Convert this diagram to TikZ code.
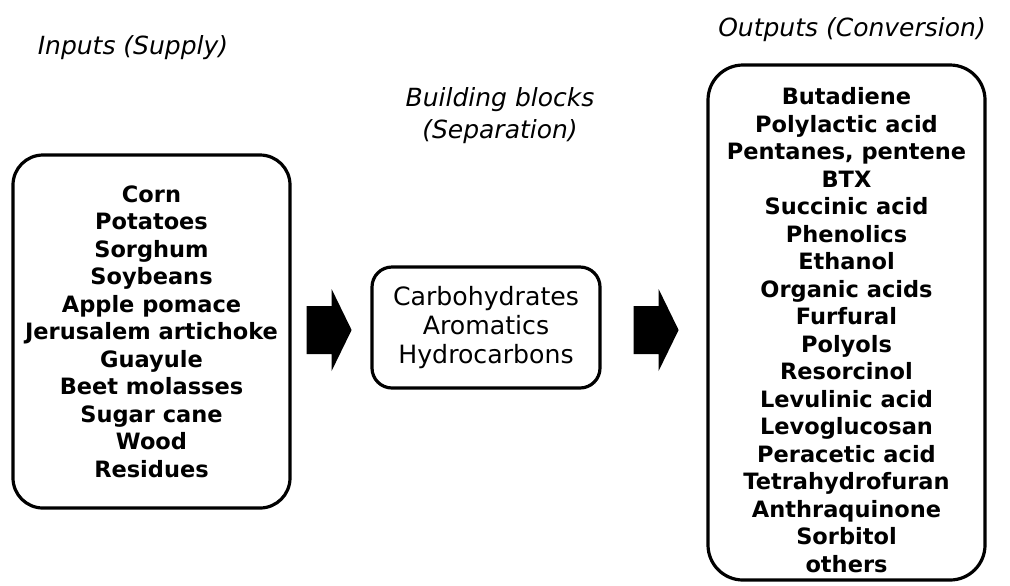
\documentclass[tikz,border=0pt]{standalone}
\usepackage{fontspec}
\setmainfont{DejaVu Sans}
\usetikzlibrary{calc}

\tikzset{
    roundbox/.style={draw=black, line width=1.6pt, rectangle, align=center, inner sep=0pt},
    listtext/.style={font=\fontsize{11.25pt}{13.75pt}\selectfont\bfseries, align=center},
    blocktext/.style={font=\fontsize{12.6pt}{14.5pt}\selectfont},
    headtext/.style={font=\fontsize{12.5pt}{16pt}\selectfont\itshape, align=center}
}

% filled block arrow, starting at the left end of its shaft
\newcommand{\blockarrow}[1]{%
    \fill[black] (#1) ++(0,-24) -- ++(25,0) -- ++(0,-17) -- ++(20,41) -- ++(-20,41) -- ++(0,-17) -- ++(-25,0) -- cycle;}

\begin{document}
\begin{tikzpicture}[x=0.5pt, y=-0.5pt]
    \useasboundingbox (0,0) rectangle (1010,585);

    %   Headings over the three columns
    \node[headtext] (inhead) at (133,48) {Inputs (Supply)};
    \node[headtext] (midhead) at (500,116) {Building blocks\\(Separation)};
    \node[headtext] (outhead) at (852,30) {Outputs (Conversion)};

    %   Supply box
    \node[roundbox, listtext, rounded corners=15pt, minimum width=138.5pt, minimum height=176.5pt] (inbox) at (151.5,331.5)
        {Corn\\Potatoes\\Sorghum\\Soybeans\\Apple pomace\\Jerusalem artichoke\\Guayule\\Beet molasses\\Sugar cane\\Wood\\Residues};

    %   Building blocks box
    \node[roundbox, blocktext, rounded corners=10pt, minimum width=114pt, minimum height=60.5pt] (midbox) at (486,327.5)
        {Carbohydrates\\Aromatics\\Hydrocarbons};

    %   Conversion box, list set a little lower than the frame centre
    \node[roundbox, rounded corners=17.5pt, minimum width=138.5pt, minimum height=257.5pt] (outbox) at (846.5,322.5) {};
    \node[listtext] (outlist) at (846.5,330)
        {Butadiene\\Polylactic acid\\Pentanes, pentene\\BTX\\Succinic acid\\Phenolics\\Ethanol\\Organic acids\\Furfural\\Polyols\\Resorcinol\\Levulinic acid\\Levoglucosan\\Peracetic acid\\Tetrahydrofuran\\Anthraquinone\\Sorbitol\\others};

    %   Arrows between the boxes
    \coordinate (arrowA) at ($(inbox.east)+(15,-1.5)$);
    \coordinate (arrowB) at ($(midbox.east)+(32,2.5)$);
    \blockarrow{arrowA}
    \blockarrow{arrowB}
\end{tikzpicture}
\end{document}
